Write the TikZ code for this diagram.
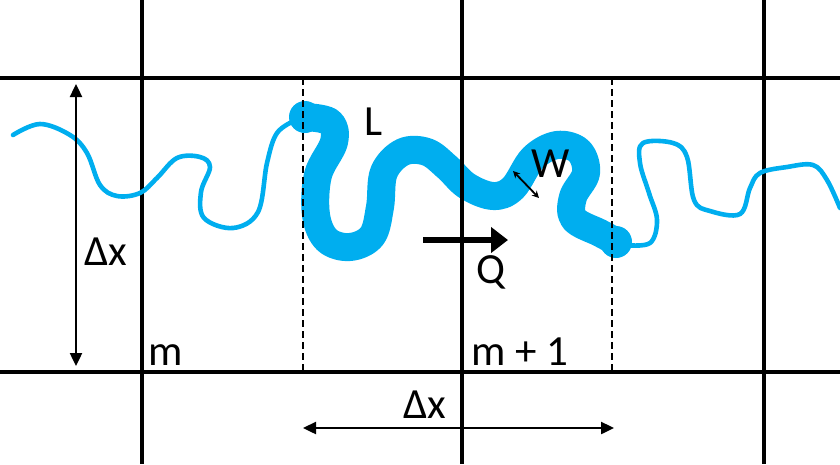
\documentclass[tikz,border=0pt]{standalone}
\usepackage{fontspec}
\setmainfont{Carlito}
\usetikzlibrary{arrows.meta}
\definecolor{river}{HTML}{00AEEF}
\begin{document}
\begin{tikzpicture}[x=1pt,y=-1pt,
  grid/.style={line width=3.4pt,black},
  dline/.style={line width=1.3pt,black,dash pattern=on 7pt off 4pt},
  thinriver/.style={line width=4.6pt,river,line cap=round,line join=round},
  thickriver/.style={line width=28pt,river,line cap=round,line join=round},
  dimarrow/.style={line width=2.4pt,{Triangle[length=13pt,width=12pt]}-{Triangle[length=13pt,width=12pt]}},
  lbl/.style={font=\fontsize{43}{45}\selectfont,inner sep=0pt}]
\useasboundingbox (0,0) rectangle (840,464);
% grid
\draw[grid] (0,78) -- (840,78);
\draw[grid] (0,372) -- (840,372);
\draw[grid] (142,0) -- (142,464);
\draw[grid] (462,0) -- (462,464);
\draw[grid] (764,0) -- (764,464);
% thin river left
\draw[thinriver] plot[smooth,tension=0.6] coordinates {(13,135) (40,124) (70,135) (87,153) (100,185) (117,196) (140,193) (157,178) (177,158) (200,157) (210,167) (201,192) (204,218) (233,228) (258,212) (267,163) (277,133) (296,120)};
% thin river right
\draw[thinriver] plot[smooth,tension=0.6] coordinates {(625,245) (650,243) (657,220) (649,193) (640,163) (643,143) (673,143) (687,157) (694,200) (710,211) (740,214) (750,188) (760,173) (787,167) (813,165) (827,180) (840,208)};
% thick river
\draw[thickriver] plot[smooth,tension=0.6] coordinates {(305,117) (330,122) (334,142) (318,175) (316,215) (327,240) (350,247) (372,236) (380,207) (384,172) (403,152) (427,152) (447,167) (467,186) (493,196) (513,188) (533,158) (557,145) (579,151) (586,173) (573,197) (574,219) (600,233) (615,241)};
\fill[river] (305,117) circle (16);
\fill[river] (616,242) circle (16);
% dashed and grid over river
\draw[dline] (303,78) -- (303,372);
\draw[dline] (612,78) -- (612,372);
\draw[grid] (462,0) -- (462,464);
% dimension arrows
\coordinate (lt) at (76,84);
\coordinate (lb) at (76,366);
\draw[dimarrow] (lt) -- (lb);
\coordinate (bl) at (303,428);
\coordinate (br) at (614,428);
\draw[dimarrow] (bl) -- (br);
\coordinate (wa) at (513,171);
\coordinate (wb) at (539,198);
\draw[line width=1.8pt,{Stealth[length=7pt,width=7pt]}-{Stealth[length=7pt,width=7pt]}] (wa) -- (wb);
% Q arrow
\coordinate (qa) at (423,240);
\coordinate (qb) at (508,240);
\draw[line width=6.5pt,-{Triangle[length=17pt,width=25pt]}] (qa) -- (qb);
% labels
\node[lbl] (dxl) at (106,252) {Δx};
\node[lbl] (dxb) at (425,405) {Δx};
\node[lbl,anchor=base west] (m) at (148,365) {m};
\node[lbl,anchor=base west] (m1) at (471,365) {m + 1};
\node[lbl] (L) at (374,122) {L};
\node[lbl] (W) at (551,164) {W};
\node[lbl] (Q) at (491,272) {Q};
\end{tikzpicture}
\end{document}
